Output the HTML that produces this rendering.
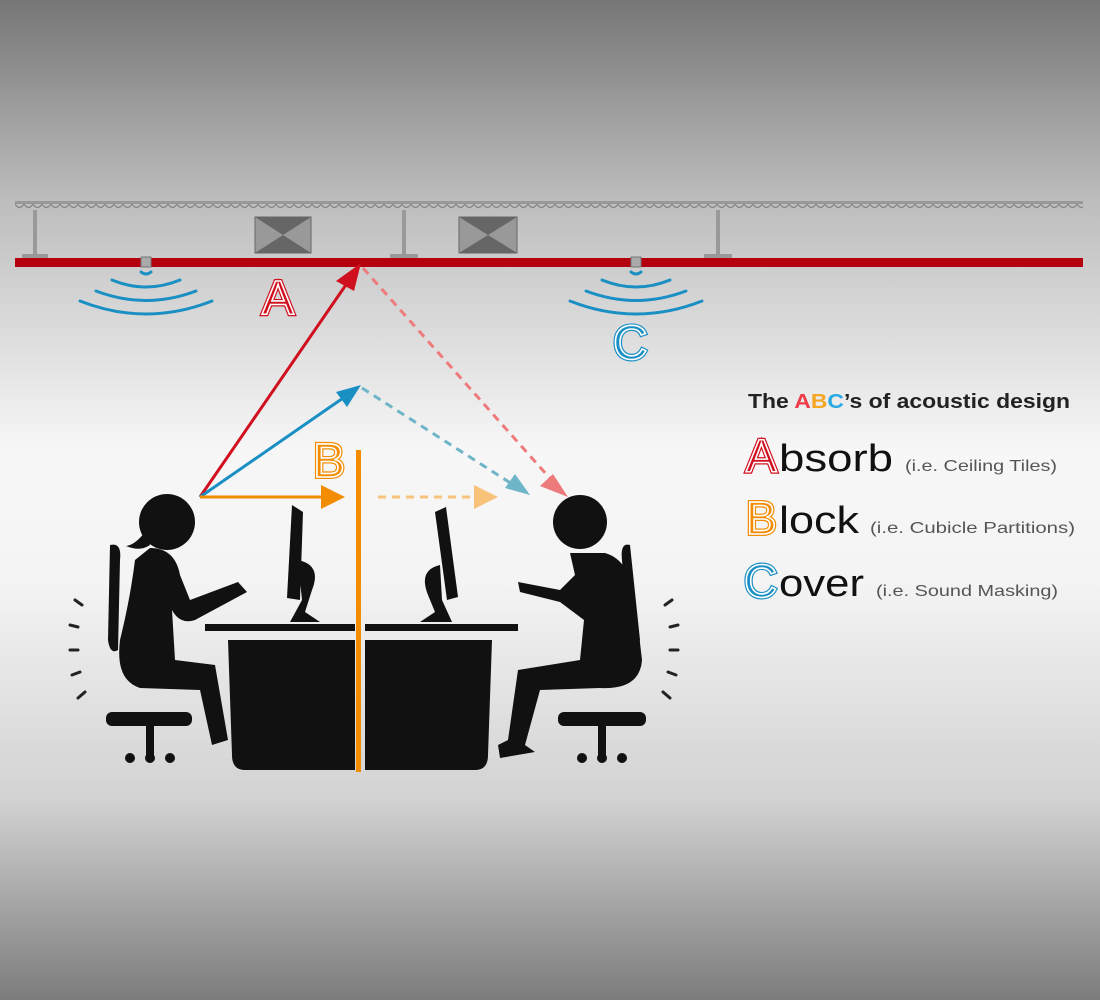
<!DOCTYPE html>
<html><head><meta charset="utf-8"><style>
html,body{margin:0;padding:0;width:1100px;height:1000px;overflow:hidden}
body{background:linear-gradient(#767676 0px,#bdbdbd 200px,#f7f7f7 450px,#f4f4f4 580px,#d2d2d2 800px,#7c7c7c 1000px)}
svg{position:absolute;left:0;top:0}
.o1{stroke-width:4}
.o2{fill:none;stroke:#fff;stroke-width:1.6}
</style></head><body>
<svg width="1100" height="1000" viewBox="0 0 1100 1000" xmlns="http://www.w3.org/2000/svg">
<defs>
<pattern id="wave" x="15" y="203" width="9" height="8" patternUnits="userSpaceOnUse">
<path d="M0 1 Q4.5 8 9 1" fill="none" stroke="#888" stroke-width="1.2"/>
</pattern>
</defs>
<rect x="15" y="201" width="1068" height="3" fill="#999"/>
<rect x="15" y="203" width="1068" height="8" fill="url(#wave)"/>
<g fill="#999">
<rect x="33" y="210" width="4" height="46"/><rect x="22" y="254" width="26" height="4"/>
<rect x="402" y="210" width="4" height="46"/><rect x="390" y="254" width="28" height="4"/>
<rect x="716" y="210" width="4" height="46"/><rect x="704" y="254" width="28" height="4"/>
</g>
<g>
<rect x="255" y="217" width="56" height="36" fill="#999" stroke="#666"/>
<path d="M255 217 L283 235 L311 217Z M255 253 L283 235 L311 253Z" fill="#666"/>
<rect x="459" y="217" width="58" height="36" fill="#999" stroke="#666"/>
<path d="M459 217 L488 235 L517 217Z M459 253 L488 235 L517 253Z" fill="#666"/>
</g>
<rect x="15" y="258" width="1068" height="9" fill="#b5000f"/>
<g fill="#aaa" stroke="#777"><rect x="141" y="257" width="10" height="10"/><rect x="631" y="257" width="10" height="10"/></g>
<g fill="none" stroke="#1a8fc4" stroke-width="3" stroke-linecap="round">
<path d="M141 272 Q146 276 151 272"/>
<path d="M112 280 Q146 294 180 280"/><path d="M96 291 Q146 310 196 291"/><path d="M80 301 Q146 327 212 301"/>
<path d="M631 272 Q636 276 641 272"/>
<path d="M602 280 Q636 294 670 280"/><path d="M586 291 Q636 310 686 291"/><path d="M570 301 Q636 327 702 301"/>
</g>
<g font-family="Liberation Sans, sans-serif" font-size="48">
<text x="262" y="314" fill="#d0101e" stroke="#d0101e" class="o1">A</text><text x="262" y="314" class="o2">A</text>
<text x="613" y="359" fill="#1a8fc4" stroke="#1a8fc4" class="o1">C</text><text x="613" y="359" class="o2">C</text>
<text x="313" y="477" fill="#f28c00" stroke="#f28c00" class="o1">B</text><text x="313" y="477" class="o2">B</text>
</g>
<g stroke-width="3" fill="none">
<line x1="200" y1="497" x2="352" y2="276" stroke="#d0101e"/>
<line x1="200" y1="497" x2="346" y2="396" stroke="#1a8fc4"/>
<line x1="200" y1="497" x2="326" y2="497" stroke="#f28c00"/>
<line x1="363" y1="268" x2="555" y2="484" stroke="#ee7b7b" stroke-dasharray="8 6"/>
<line x1="362" y1="388" x2="512" y2="484" stroke="#6fb5c8" stroke-dasharray="8 6"/>
<line x1="378" y1="497" x2="478" y2="497" stroke="#f8c27a" stroke-dasharray="8 6"/>
</g>
<path d="M361 263 L336 281 L354 291Z" fill="#d0101e"/>
<path d="M361 385 L336 392 L347 407Z" fill="#1a8fc4"/>
<path d="M345 497 L321 485 L321 509Z" fill="#f28c00"/>
<path d="M568 497 L540 486 L553 474Z" fill="#ee7b7b"/>
<path d="M530 495 L505 488 L515 474Z" fill="#6fb5c8"/>
<path d="M498 497 L474 485 L474 509Z" fill="#f8c27a"/>
<g fill="#111">
<rect x="205" y="624" width="150" height="7"/>
<path d="M228 640 H355 V770 H245 Q232 770 232 755Z"/>
<rect x="365" y="624" width="153" height="7"/>
<path d="M365 640 H492 L488 755 Q488 770 475 770 H365Z"/>
<path d="M292 505 L303 512 L300 600 L287 598Z"/>
<path d="M298 560 Q322 565 312 590 L305 612 L320 622 L290 622 L302 600Z"/>
<path d="M435 512 L446 507 L458 597 L447 600Z"/>
<path d="M440 565 Q418 570 428 595 L435 612 L420 622 L452 622 L442 600Z"/>
<circle cx="167" cy="522" r="28"/>
<path d="M145 532 Q135 545 126 546 Q140 552 150 545Z"/>
<path d="M150 548 Q175 548 180 575 L190 600 L238 582 L247 592 L195 620 Q180 625 172 610 L175 660 L215 665 L228 740 L212 745 L200 690 L140 688 Q115 680 120 640 Q130 600 135 560Z"/>
<rect x="106" y="712" width="86" height="14" rx="6"/>
<rect x="146" y="726" width="8" height="30"/>
<circle cx="130" cy="758" r="5"/><circle cx="150" cy="758" r="5"/><circle cx="170" cy="758" r="5"/>
<path d="M110 545 Q122 542 120 560 L118 650 Q110 655 108 640Z"/>
<circle cx="580" cy="522" r="27"/>
<path d="M570 553 L605 553 Q630 560 635 600 L642 660 Q640 690 600 688 L540 690 L525 745 L535 752 L500 758 L498 745 L508 740 L518 670 L580 660 L584 620 L560 602 L520 592 L518 582 L560 590 L575 575Z"/>
<rect x="558" y="712" width="88" height="14" rx="6"/>
<rect x="598" y="726" width="8" height="30"/>
<circle cx="582" cy="758" r="5"/><circle cx="602" cy="758" r="5"/><circle cx="622" cy="758" r="5"/>
<path d="M630 545 Q620 542 622 560 L628 650 Q636 655 640 640 Z"/>
</g>
<g stroke="#222" stroke-width="3" stroke-linecap="round">
<line x1="75" y1="600" x2="82" y2="605"/><line x1="70" y1="625" x2="78" y2="627"/><line x1="70" y1="650" x2="78" y2="650"/><line x1="72" y1="675" x2="80" y2="672"/><line x1="78" y1="698" x2="85" y2="692"/>
<line x1="672" y1="600" x2="665" y2="605"/><line x1="678" y1="625" x2="670" y2="627"/><line x1="678" y1="650" x2="670" y2="650"/><line x1="676" y1="675" x2="668" y2="672"/><line x1="670" y1="698" x2="663" y2="692"/>
</g>
<rect x="356" y="450" width="5" height="322" fill="#f28c00"/>
<g font-family="Liberation Sans, sans-serif">
<text x="748" y="408" font-size="20" font-weight="bold" fill="#222" textLength="322" lengthAdjust="spacingAndGlyphs">The <tspan fill="#ef3b4a">A</tspan><tspan fill="#f5a623">B</tspan><tspan fill="#27a9e1">C</tspan>’s of acoustic design</text>
<text x="746" y="472" font-size="46" fill="#d0101e" stroke="#d0101e" class="o1">A</text><text x="746" y="472" font-size="46" class="o2">A</text>
<text x="779" y="471" font-size="38" fill="#111" textLength="114" lengthAdjust="spacingAndGlyphs">bsorb</text>
<text x="905" y="471" font-size="16" fill="#555" textLength="152" lengthAdjust="spacingAndGlyphs">(i.e. Ceiling Tiles)</text>
<text x="746" y="534" font-size="46" fill="#f28c00" stroke="#f28c00" class="o1">B</text><text x="746" y="534" font-size="46" class="o2">B</text>
<text x="779" y="533" font-size="38" fill="#111" textLength="80" lengthAdjust="spacingAndGlyphs">lock</text>
<text x="870" y="533" font-size="16" fill="#555" textLength="205" lengthAdjust="spacingAndGlyphs">(i.e. Cubicle Partitions)</text>
<text x="744" y="597" font-size="46" fill="#1a8fc4" stroke="#1a8fc4" class="o1">C</text><text x="744" y="597" font-size="46" class="o2">C</text>
<text x="779" y="596" font-size="38" fill="#111" textLength="85" lengthAdjust="spacingAndGlyphs">over</text>
<text x="876" y="596" font-size="16" fill="#555" textLength="182" lengthAdjust="spacingAndGlyphs">(i.e. Sound Masking)</text>
</g>
</svg>
</body></html>
